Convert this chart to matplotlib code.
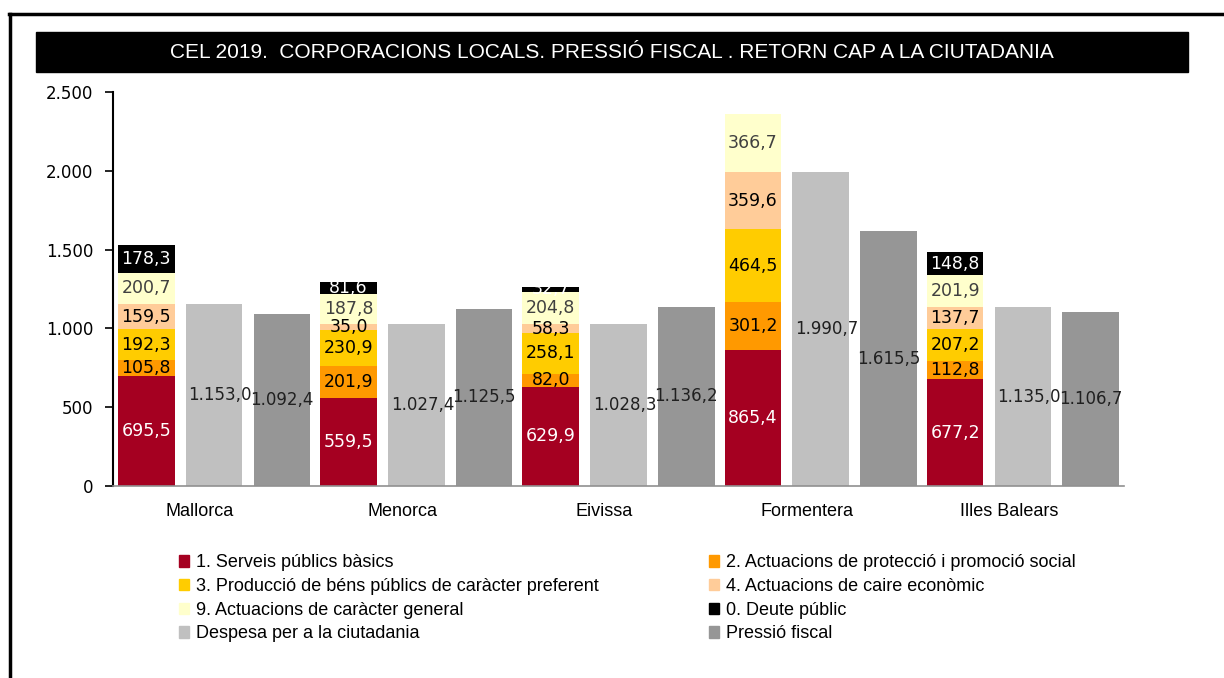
import numpy as np
import matplotlib.pyplot as plt
from matplotlib.patches import Patch, Rectangle
from matplotlib.lines import Line2D
from matplotlib.ticker import FuncFormatter

illes = ['Mallorca', 'Menorca', 'Eivissa', 'Formentera', 'Illes Balears']

serveis = [695.5, 559.5, 629.9, 865.4, 677.2]
proteccio = [105.8, 201.9, 82.0, 301.2, 112.8]
produccio = [192.3, 230.9, 258.1, 464.5, 207.2]
economic = [159.5, 35.0, 58.3, 359.6, 137.7]
general = [200.7, 187.8, 204.8, 366.7, 201.9]
deute = [178.3, 81.6, 32.7, 0.0, 148.8]
despesa = [1153.0, 1027.4, 1028.3, 1990.7, 1135.0]
pressio = [1092.4, 1125.5, 1136.2, 1615.5, 1106.7]

noms = ['1. Serveis públics bàsics',
        '2. Actuacions de protecció i promoció social',
        '3. Producció de béns públics de caràcter preferent',
        '4. Actuacions de caire econòmic',
        '9. Actuacions de caràcter general',
        '0. Deute públic',
        'Despesa per a la ciutadania',
        'Pressió fiscal']
colors = ['#A50021', '#FF9900', '#FFCC00', '#FFCC99', '#FFFFCC', '#000000',
          '#C0C0C0', '#969696']
txt_colors = ['white', 'black', 'black', 'black', '#404040', 'white']


def fmt(v):
    # format 1153.0 -> 1.153,0
    s = f'{v:,.1f}'
    return s.replace(',', 'X').replace('.', ',').replace('X', '.')


fig = plt.figure(figsize=(12.24, 6.78), dpi=100)
ax = fig.add_axes([0.0923, 0.2832, 0.8260, 0.5811])

x = np.arange(len(illes))
w = 0.28
off = 0.335

# stacked bar of spending by area
segs = [serveis, proteccio, produccio, economic, general, deute]
bottom = np.zeros(len(illes))
for vals, c, tc in zip(segs, colors[:6], txt_colors):
    vals = np.array(vals)
    ax.bar(x - off, vals, w, bottom=bottom, color=c, linewidth=0)
    for xi, b, v in zip(x, bottom, vals):
        if v > 0:
            ax.text(xi - off, b + v / 2, fmt(v), ha='center', va='center',
                    fontsize=12.5, color=tc, family='DejaVu Sans')
    bottom += vals

ax.bar(x, despesa, w, color=colors[6], linewidth=0)
ax.bar(x + off, pressio, w, color=colors[7], linewidth=0)
for xi, v in zip(x, despesa):
    ax.text(xi + 0.03, v / 2, fmt(v), ha='center', va='center', fontsize=12,
            color='#202020')
for xi, v in zip(x, pressio):
    ax.text(xi + off, v / 2, fmt(v), ha='center', va='center', fontsize=12,
            color='#202020')

ax.set_xlim(-0.5, 4.5)
ax.set_ylim(0, 2500)
ax.set_yticks(np.arange(0, 2501, 500))
ax.yaxis.set_major_formatter(FuncFormatter(lambda v, p: f'{int(v):,}'.replace(',', '.')))
ax.set_xticks(x - 0.07)
ax.set_xticklabels(illes, family='Liberation Sans', fontsize=13)
ax.tick_params(axis='x', length=0, pad=12)
ax.tick_params(axis='y', length=6, width=1.2, labelsize=12, pad=8)
for s in ['top', 'right']:
    ax.spines[s].set_visible(False)
ax.spines['left'].set_linewidth(1.5)
ax.spines['bottom'].set_color('#909090')
ax.spines['bottom'].set_linewidth(1.2)

# title bar
fig.patches.append(Rectangle((0.0294, 0.8938), 0.9412, 0.059, transform=fig.transFigure,
                             color='black', zorder=0))
fig.text(0.5, 0.9233, 'CEL 2019.  CORPORACIONS LOCALS. PRESSIÓ FISCAL . RETORN CAP A LA CIUTADANIA',
         ha='center', va='center', color='white', fontsize=15, family='Liberation Sans')

# outer frame (top and left only)
fig.add_artist(Line2D([0.0075, 1.0], [0.9794, 0.9794], transform=fig.transFigure,
                      color='black', linewidth=2.5))
fig.add_artist(Line2D([0.0085, 0.0085], [0.0, 0.9794], transform=fig.transFigure,
                      color='black', linewidth=2.5))

# legend in two columns
handles = [Patch(color=c) for c in colors]
col1 = [0, 2, 4, 6]
col2 = [1, 3, 5, 7]
for cols, xpos in [(col1, 0.140), (col2, 0.573)]:
    fig.legend([handles[i] for i in cols], [noms[i] for i in cols],
               loc='upper left', bbox_to_anchor=(xpos, 0.193), frameon=False,
               prop={'family': 'Liberation Sans', 'size': 13},
               handlelength=0.6, handleheight=0.6, handletextpad=0.35,
               labelspacing=0.37, borderaxespad=0)

fig.savefig('out.png', dpi=100)
